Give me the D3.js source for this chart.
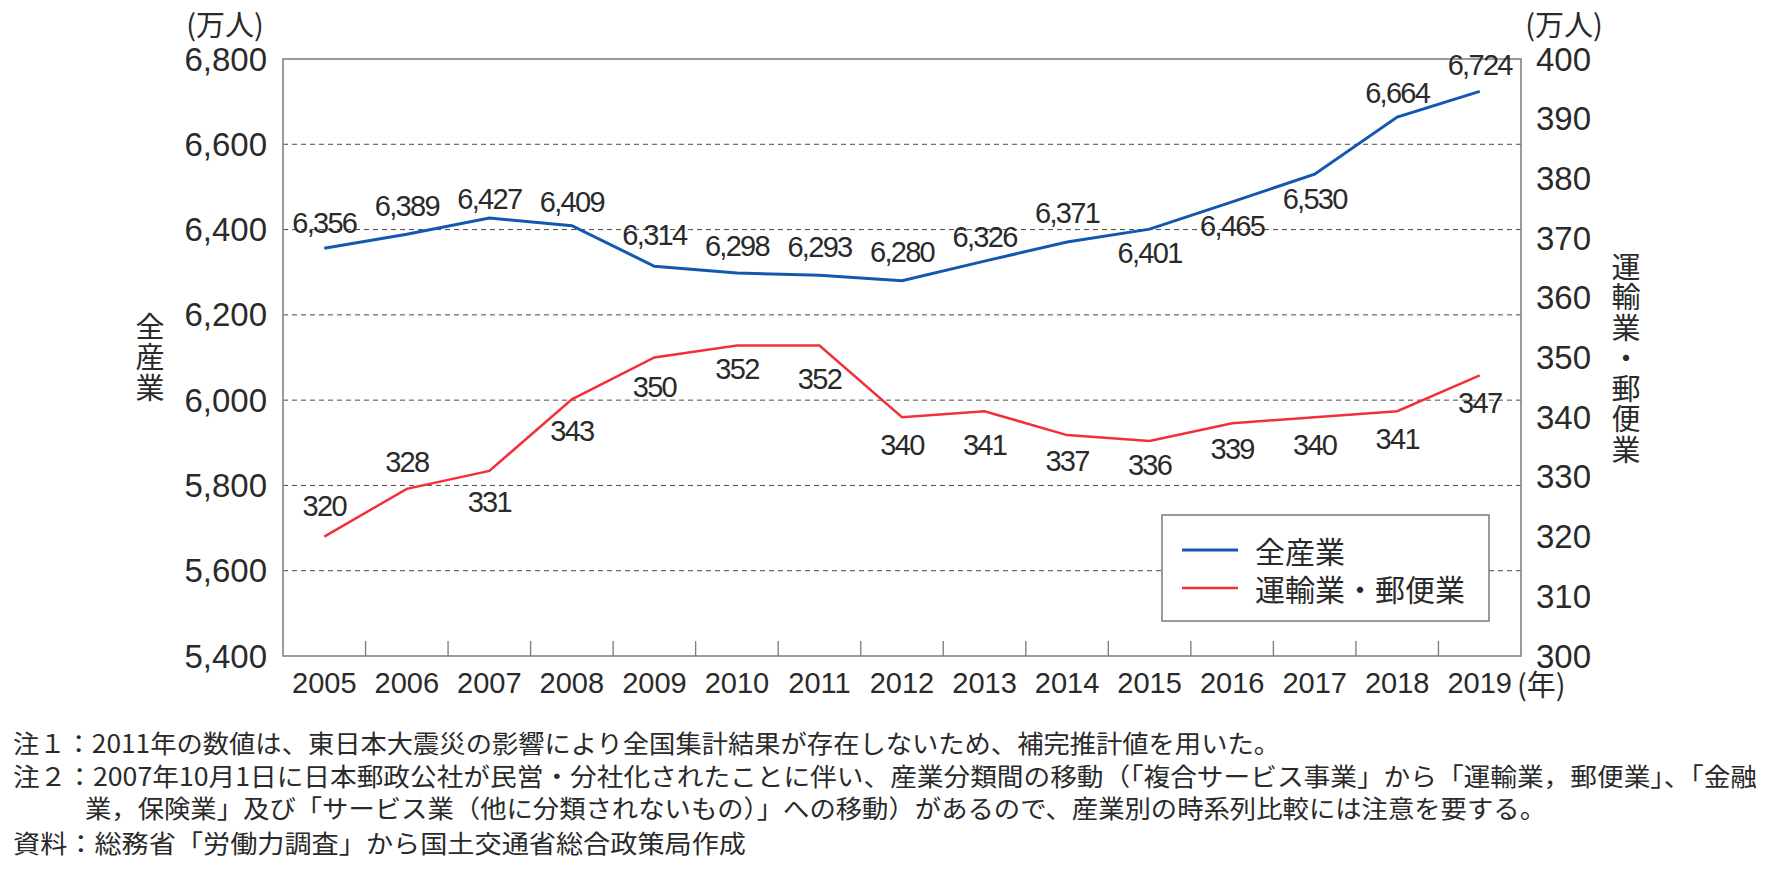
<!DOCTYPE html>
<html><head><meta charset="utf-8">
<script src="https://cdn.jsdelivr.net/npm/d3@7"></script>
<style>
html,body{margin:0;padding:0;background:#fff;}
svg{display:block;}
</style></head>
<body>
<svg id="chart" width="1776" height="878"></svg>
<script>
const years = ["2005","2006","2007","2008","2009","2010","2011","2012","2013","2014","2015","2016","2017","2018","2019"];
const allIndustry = [6356,6389,6427,6409,6314,6298,6293,6280,6326,6371,6401,6465,6530,6664,6724];
const transport = [320,328,331,343,350,352,352,340,341,337,336,339,340,341,347];
const leftTicks = [5400,5600,5800,6000,6200,6400,6600,6800];
const rightTicks = [300,310,320,330,340,350,360,370,380,390,400];
const seriesNames = ["全産業","運輸業・郵便業"];
const leftTitle = "全産業";
const rightTitle = "運輸業・郵便業";
const unitLabel = "(万人)";
const yearUnit = "(年)";
const notes = [
  "注１：2011年の数値は、東日本大震災の影響により全国集計結果が存在しないため、補完推計値を用いた。",
  "注２：2007年10月1日に日本郵政公社が民営・分社化されたことに伴い、産業分類間の移動（「複合サービス事業」から「運輸業，郵便業」、「金融",
  "業，保険業」及び「サービス業（他に分類されないもの）」への移動）があるので、産業別の時系列比較には注意を要する。",
  "資料：総務省「労働力調査」から国土交通省総合政策局作成"
];
// label placement offsets (layout)
const blueDy = [-25,-28,-19,-24,-31,-27,-28,-29,-24,-29,24,24,25,-24,-26];
const redDy = [-31,-27,31,32,29,23,33,28,34,26,24,26,28,28,28];

const BLUE = "#1258b0", RED = "#f2303a", TXT = "#2a2a2a", AX = "#7b7b7b";
const NUMF = "'Liberation Sans', Arial, sans-serif";
const CJKF = "'Noto Sans CJK JP', sans-serif";

const L = 283, R = 1521, T = 59, B = 656;
const svg = d3.select("#chart");
const x = d3.scaleBand().domain(years).range([L, R]).padding(0);
const yL = d3.scaleLinear().domain([5400,6800]).range([B, T]);
const yR = d3.scaleLinear().domain([300,400]).range([B, T]);
const cx = d => x(d) + x.bandwidth()/2;

// gridlines
svg.append("g").selectAll("line").data(leftTicks.filter(v => v>5400 && v<6800)).join("line")
  .attr("x1", L).attr("x2", R).attr("y1", d=>yL(d)).attr("y2", d=>yL(d))
  .attr("stroke", "#4a4a4a").attr("stroke-width", 1).attr("stroke-dasharray", "5,4");

// frame
svg.append("rect").attr("x", L).attr("y", T).attr("width", R-L).attr("height", B-T)
  .attr("fill","none").attr("stroke", AX).attr("stroke-width", 1.5);

// x ticks (inner boundaries)
svg.append("g").selectAll("line").data(years.slice(1)).join("line")
  .attr("x1", d=>x(d)).attr("x2", d=>x(d)).attr("y1", B).attr("y2", B-15)
  .attr("stroke", AX).attr("stroke-width", 1.3);

// x labels
svg.append("g").selectAll("text").data(years).join("text")
  .attr("x", d=>cx(d)).attr("y", 683).attr("text-anchor","middle").attr("dominant-baseline","central")
  .attr("font-family", NUMF).attr("font-size", 29).attr("fill", TXT).text(d=>d);
svg.append("text").attr("x", 1517).attr("y", 683).attr("dominant-baseline","central")
  .attr("font-family", CJKF).attr("font-size", 29).attr("fill", TXT).text(yearUnit);

// left y labels
const fmt = d3.format(",");
svg.append("g").selectAll("text").data(leftTicks).join("text")
  .attr("x", 267).attr("y", d=>yL(d)).attr("text-anchor","end").attr("dominant-baseline","central")
  .attr("font-family", NUMF).attr("font-size", 33).attr("fill", TXT).text(d=>fmt(d));
// right y labels
svg.append("g").selectAll("text").data(rightTicks).join("text")
  .attr("x", 1536).attr("y", d=>yR(d)).attr("text-anchor","start").attr("dominant-baseline","central")
  .attr("font-family", NUMF).attr("font-size", 33).attr("fill", TXT).text(d=>d);

// units
svg.append("text").attr("x", 225).attr("y", 23).attr("text-anchor","middle").attr("dominant-baseline","central")
  .attr("font-family", CJKF).attr("font-size", 29).attr("fill", TXT).text(unitLabel);
svg.append("text").attr("x", 1564).attr("y", 23).attr("text-anchor","middle").attr("dominant-baseline","central")
  .attr("font-family", CJKF).attr("font-size", 29).attr("fill", TXT).text(unitLabel);

// vertical titles
function vtitle(str, xc, yc){
  svg.append("text").attr("x", xc).attr("y", yc)
    .attr("text-anchor","middle")
    .style("writing-mode","vertical-rl")
    .attr("letter-spacing", 1.5)
    .attr("font-family", CJKF).attr("font-size", 29).attr("fill", TXT).text(str);
}
vtitle(leftTitle, 150, 358);
vtitle(rightTitle, 1626, 359);

// lines
const lineL = d3.line().x((d,i)=>cx(years[i])).y(d=>yL(d));
const lineR = d3.line().x((d,i)=>cx(years[i])).y(d=>yR(d));
svg.append("path").attr("d", lineL(allIndustry)).attr("fill","none").attr("stroke", BLUE).attr("stroke-width", 3);
svg.append("path").attr("d", lineR(transport)).attr("fill","none").attr("stroke", RED).attr("stroke-width", 2.5);

// data labels
svg.append("g").selectAll("text").data(allIndustry).join("text")
  .attr("x", (d,i)=>cx(years[i])).attr("y", (d,i)=>yL(d)+blueDy[i])
  .attr("text-anchor","middle").attr("dominant-baseline","central")
  .attr("font-family", NUMF).attr("font-size", 29).attr("letter-spacing", -1.7).attr("fill", TXT).text(d=>fmt(d));
svg.append("g").selectAll("text").data(transport).join("text")
  .attr("x", (d,i)=>cx(years[i])).attr("y", (d,i)=>yR(d)+redDy[i])
  .attr("text-anchor","middle").attr("dominant-baseline","central")
  .attr("font-family", NUMF).attr("font-size", 29).attr("letter-spacing", -1.7).attr("fill", TXT).text(d=>d);

// legend
const lg = svg.append("g");
lg.append("rect").attr("x", 1162).attr("y", 515).attr("width", 327).attr("height", 106)
  .attr("fill","#fff").attr("stroke", AX).attr("stroke-width", 1.5);
[BLUE, RED].forEach((c,i)=>{
  const yy = 550 + i*38;
  lg.append("line").attr("x1", 1182).attr("x2", 1238).attr("y1", yy).attr("y2", yy)
    .attr("stroke", c).attr("stroke-width", i===0?3:2.5);
  lg.append("text").attr("x", 1255).attr("y", yy).attr("dominant-baseline","central")
    .attr("font-family", CJKF).attr("font-size", 30).attr("fill", TXT).text(seriesNames[i]);
});

// notes
const noteX = [13, 13, 85, 13];
const noteY = [742, 775, 807, 842];
const noteEnd = [1280, 1757, 1546, 746];
svg.append("g").selectAll("text").data(notes).join("text")
  .attr("x", (d,i)=>noteX[i]).attr("y", (d,i)=>noteY[i]).attr("dominant-baseline","central")
  .attr("font-family", CJKF).attr("font-size", 25).attr("fill", TXT)
  .attr("textLength", (d,i)=>noteEnd[i]-noteX[i]).attr("lengthAdjust","spacingAndGlyphs")
  .text(d=>d);
</script>
</body></html>
